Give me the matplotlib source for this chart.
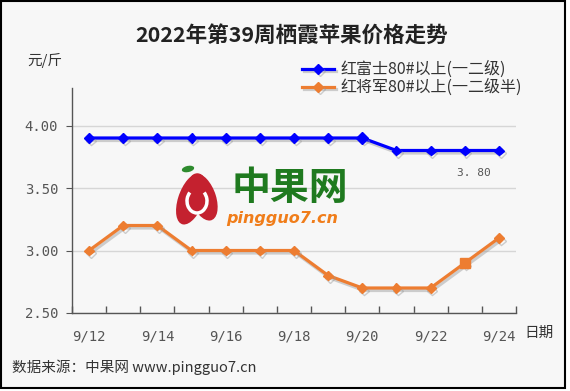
import matplotlib
matplotlib.use('Agg')
import matplotlib.pyplot as plt
import matplotlib.patheffects as pe
from matplotlib.patches import Rectangle, Ellipse, Arc

plt.rcParams['font.family'] = ['Noto Sans CJK SC', 'DejaVu Sans']

# ── datos ──────────────────────────────────────────────
dates = ['9/12', '9/13', '9/14', '9/15', '9/16', '9/17', '9/18',
         '9/19', '9/20', '9/21', '9/22', '9/23', '9/24']
fuji = [3.9, 3.9, 3.9, 3.9, 3.9, 3.9, 3.9, 3.9, 3.9, 3.8, 3.8, 3.8, 3.8]
general = [3.0, 3.2, 3.2, 3.0, 3.0, 3.0, 3.0, 2.8, 2.7, 2.7, 2.7, 2.9, 3.1]
series_names = ['红富士80#以上(一二级)', '红将军80#以上(一二级半)']
yticks = [2.5, 3.0, 3.5, 4.0]

W, H = 570, 391
BG = '#F7F7F7'
BLUE = '#0000FF'
ORANGE = '#ED7D31'
TXT = '#333333'
TICK = '#555555'


def fx(x):
    return x / W


def fy(y):
    return 1 - y / H


fig = plt.figure(figsize=(W / 100, H / 100), dpi=100, facecolor='white')
fig.patches.append(Rectangle((fx(1), fy(388)), fx(564), 387 / H, transform=fig.transFigure,
                             facecolor=BG, edgecolor='black', linewidth=1.5, zorder=-5))

ax = fig.add_axes([fx(72), fy(313), fx(516 - 72), (313 - 88) / H])
ax.set_facecolor('none')

x = list(range(len(dates)))
shadow = [pe.SimpleLineShadow(offset=(1.2, -1.8), shadow_color='#999999', alpha=0.45),
          pe.Normal()]

ax.plot(x, fuji, color=BLUE, lw=2.3, marker='D', ms=5, label=series_names[0],
        path_effects=shadow, zorder=4, solid_joinstyle='round')
ax.plot(x, general, color=ORANGE, lw=2.3, marker='D', ms=5, label=series_names[1],
        path_effects=shadow, zorder=4, solid_joinstyle='round')
# puntos resaltados
ax.plot(x[11], general[11], color=ORANGE, marker='s', ms=7, zorder=5)
ax.plot(x[8], fuji[8], color=BLUE, marker='D', ms=6.5, zorder=5)

ax.annotate(f'{fuji[-1]:.2f}'.replace('.', '. '), (x[-1], fuji[-1]), textcoords='offset points',
            xytext=(-18, -16), ha='center', va='center', fontsize=8, color=TICK,
            family=['DejaVu Sans Mono'])

ax.set_xlim(-0.5, len(dates) - 0.5)
ax.set_ylim(2.5, 4.3)

# ticks eje x: marcas en los bordes, etiquetas cada dos días
ax.set_xticks([i - 0.5 for i in range(len(dates) + 1)])
ax.set_xticklabels([])
ax.set_xticks(x[::2], minor=True)
ax.set_xticklabels(dates[::2], minor=True)
ax.tick_params(axis='x', which='major', direction='in', length=5, color=TICK, width=1)
ax.tick_params(axis='x', which='minor', length=0, pad=12, labelsize=10, labelcolor=TICK)

ax.set_yticks(yticks)
ax.set_yticklabels([f'{v:.2f}' for v in yticks])
ax.tick_params(axis='y', direction='out', length=4, color=TICK, labelsize=10,
               labelcolor=TICK, pad=6)
for lbl in ax.get_yticklabels() + ax.get_xticklabels(minor=True):
    lbl.set_family(['DejaVu Sans Mono'])

ax.grid(axis='y', color='#D6D6D6', lw=1)
ax.set_axisbelow(True)
for s in ['top', 'right']:
    ax.spines[s].set_visible(False)
for s in ['left', 'bottom']:
    ax.spines[s].set_color(TICK)
    ax.spines[s].set_linewidth(1)

# marca de agua
ax.text(fx(290), fy(188), '中果网', transform=fig.transFigure, ha='center', va='center',
        fontsize=28, fontweight='bold', color='#1F7A1F', zorder=1)
ax.text(fx(282), fy(219), 'pingguo7.cn', transform=fig.transFigure, ha='center', va='center',
        fontsize=11.5, fontweight='bold', style='italic', color='#F07D1A', zorder=1,
        family=['DejaVu Sans'])
ax.add_patch(Ellipse((fx(191), fy(199)), fx(26), 52 / H, angle=-12, transform=fig.transFigure,
                     facecolor='#C4212F', edgecolor='none', zorder=1))
ax.add_patch(Ellipse((fx(203), fy(197)), fx(26), 48 / H, angle=12, transform=fig.transFigure,
                     facecolor='#C4212F', edgecolor='none', zorder=1))
ax.add_patch(Arc((fx(197), fy(201)), fx(20), 24 / H, transform=fig.transFigure,
                 theta1=120, theta2=420, color='white', lw=2.5, zorder=1))
ax.add_patch(Ellipse((fx(188), fy(169)), fx(13), 6 / H, angle=25, transform=fig.transFigure,
                     facecolor='#2E8B2E', edgecolor='none', zorder=1))

# textos
fig.text(0.5 + fx(7), fy(35), '2022年第39周栖霞苹果价格走势', ha='center', va='center',
         fontsize=15.5, fontweight='bold', color='#222222')
fig.text(fx(27), fy(60), '元/斤', ha='left', va='center', fontsize=10.5, color=TXT)
fig.text(fx(524), fy(333), '日期', ha='left', va='center', fontsize=10.5, color=TXT)
fig.text(fx(12), fy(367), '数据来源：中果网 www.pingguo7.cn', ha='left', va='center',
         fontsize=10.5, color=TXT)

leg = fig.legend(loc='upper left', bbox_to_anchor=(fx(302), fy(61)), frameon=False,
                 fontsize=11.5, handlelength=2.0, handletextpad=0.4, labelspacing=0.05,
                 borderaxespad=0, borderpad=0)
for t in leg.get_texts():
    t.set_color(TXT)

fig.savefig('out.png', dpi=100, facecolor='white')
